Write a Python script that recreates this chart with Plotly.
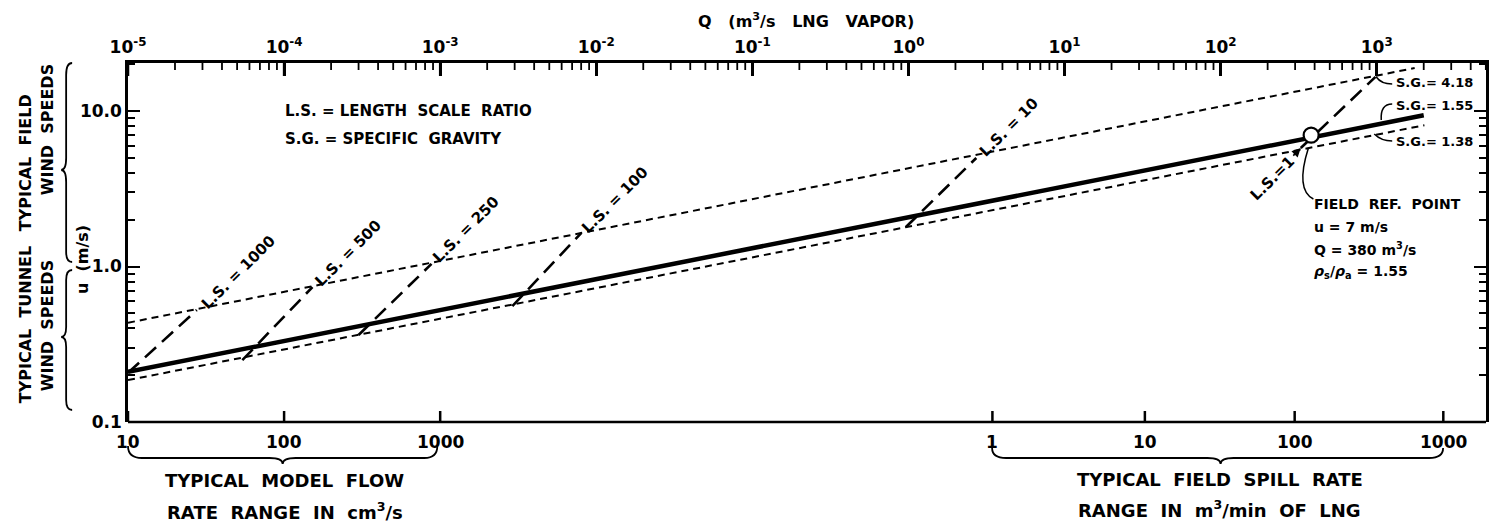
import math
import plotly.graph_objects as go

# ---- data (Q in m^3/s LNG vapour, u in m/s) ----
Q_SG155 = [1e-5, 2000]
U_SG155 = [0.21, 9.4]
Q_SG418 = [1e-5, 1750]
U_SG418 = [0.435, 18.9]
Q_SG138 = [1e-5, 2020]
U_SG138 = [0.186, 8.1]

LS_NAMES = ["1000", "500", "250", "100", "10", "1"]
LS_Q_LOW = [1.0e-5, 5.4e-5, 3.0e-4, 2.9e-3, 0.96, 326]
LS_U_LOW = [0.207, 0.25, 0.363, 0.557, 1.79, 5.78]
LS_Q_HIGH = [2.76e-5, 1.52e-4, 8.8e-4, 8.0e-3, 2.72, 982]
LS_U_HIGH = [0.525, 0.738, 1.04, 1.64, 4.99, 16.6]

REF_Q = 380
REF_U = 7

TOP_TICKS = [1e-5, 1e-4, 1e-3, 1e-2, 1e-1, 1e0, 1e1, 1e2, 1e3]
TOP_TEXT = ["10<sup>-5</sup>", "10<sup>-4</sup>", "10<sup>-3</sup>", "10<sup>-2</sup>",
            "10<sup>-1</sup>", "10<sup>0</sup>", "10<sup>1</sup>", "10<sup>2</sup>",
            "10<sup>3</sup>"]
# bottom scales: model flow (cm^3/s) and field spill rate (m^3/min LNG),
# each tick given as its equivalent Q on the vapour scale
MODEL_TICK_Q = [1e-5, 1e-4, 1e-3]
MODEL_TICK_TEXT = ["10", "100", "1000"]
FIELD_TICK_Q = [3.45, 32.7, 298, 2670]
FIELD_TICK_TEXT = ["1", "10", "100", "1000"]

Y_TICKS = [0.1, 1, 10]
Y_TEXT = ["0.1", "1.0", "10.0"]

X_RANGE = [-5, 3.70]
Y_RANGE = [-1, 1.309]

W, H = 1496, 526
ML, MR, MT, MB = 128, 7, 63, 104
PW, PH = W - ML - MR, H - MT - MB
PX_PER_DEC_Y = PH / (Y_RANGE[1] - Y_RANGE[0])
FONT = "DejaVu Sans"


def log_minor(lo_dec, hi_dec, hi_val):
    """2..9 subdivisions of each decade, for minor tick marks."""
    vals = []
    for d in range(lo_dec, hi_dec + 1):
        for k in range(2, 10):
            v = k * 10.0 ** d
            if v <= hi_val:
                vals.append(v)
    return vals


def px(x):
    return (x - ML) / PW


def py(y):
    return (H - MB - y) / PH


def pth(points):
    """SVG path in paper units from a list of (cmd, x, y, ...) pixel tuples."""
    out = []
    for item in points:
        cmd, coords = item[0], item[1:]
        pairs = []
        for i in range(0, len(coords), 2):
            pairs.append(f"{px(coords[i]):.5f},{py(coords[i + 1]):.5f}")
        out.append(cmd + " " + " ".join(pairs))
    return " ".join(out)


def tick_segments(qs, from_top, length_px):
    """Vertical tick segments on the top or bottom frame, in data units."""
    if from_top:
        y0 = 10 ** Y_RANGE[1]
        y1 = 10 ** (Y_RANGE[1] - length_px / PX_PER_DEC_Y)
    else:
        y0 = 10 ** Y_RANGE[0]
        y1 = 10 ** (Y_RANGE[0] + length_px / PX_PER_DEC_Y)
    xs, ys = [], []
    for q in qs:
        xs += [q, q, None]
        ys += [y0, y1, None]
    return xs, ys


fig = go.Figure()

# density lines
fig.add_trace(go.Scatter(x=Q_SG418, y=U_SG418, mode="lines",
                         line=dict(color="black", width=2, dash="7px,5px")))
fig.add_trace(go.Scatter(x=Q_SG138, y=U_SG138, mode="lines",
                         line=dict(color="black", width=2, dash="7px,5px")))
fig.add_trace(go.Scatter(x=Q_SG155, y=U_SG155, mode="lines",
                         line=dict(color="black", width=4.5)))

# length-scale lines
for i in range(len(LS_NAMES)):
    fig.add_trace(go.Scatter(x=[LS_Q_LOW[i], LS_Q_HIGH[i]], y=[LS_U_LOW[i], LS_U_HIGH[i]],
                             mode="lines",
                             line=dict(color="black", width=2.6, dash="15px,8px")))

# field reference point
fig.add_trace(go.Scatter(x=[REF_Q], y=[REF_U], mode="markers",
                         marker=dict(size=15, color="white",
                                     line=dict(color="black", width=2.2))))

# frame tick marks: vapour scale along the top, model/field scales along the bottom
for qs, top, length, width in [(TOP_TICKS, True, 13, 2.5),
                               (log_minor(-5, 3, 5000), True, 7, 1.8),
                               (MODEL_TICK_Q + FIELD_TICK_Q, False, 11, 2.5)]:
    tx, ty = tick_segments(qs, top, length)
    fig.add_trace(go.Scatter(x=tx, y=ty, mode="lines", hoverinfo="skip",
                             connectgaps=False, cliponaxis=False,
                             line=dict(color="black", width=width)))

ann = []
shapes = []

# length-scale labels along the lines
LS_SHIFT = [(42, 38), (36, 34), (34, 34), (34, 33), (33, 31)]
for i, (dx, dy) in enumerate(LS_SHIFT):
    ann.append(dict(x=math.log10(LS_Q_HIGH[i]), y=math.log10(LS_U_HIGH[i]),
                    xref="x", yref="y",
                    text=f"L.S. = {LS_NAMES[i]}", showarrow=False, textangle=-45,
                    xshift=dx, yshift=dy, font=dict(size=15)))
# L.S. = 1 label with its pointer
ann.append(dict(x=math.log10(LS_Q_LOW[5]), y=math.log10(LS_U_LOW[5]),
                xref="x", yref="y", text="L.S.=1", showarrow=False, textangle=-45,
                xshift=-28, yshift=-30, font=dict(size=15)))
ann.append(dict(x=math.log10(LS_Q_LOW[5]), y=math.log10(LS_U_LOW[5]),
                xref="x", yref="y", text="", showarrow=True, arrowhead=2,
                arrowsize=1.1, arrowwidth=1.6, arrowcolor="black", ax=-9, ay=9))

# bottom scale labels
for q, label in zip(MODEL_TICK_Q + FIELD_TICK_Q, MODEL_TICK_TEXT + FIELD_TICK_TEXT):
    ann.append(dict(x=math.log10(q), y=0, xref="x", yref="paper", text=label,
                    showarrow=False, xanchor="center", yanchor="top", yshift=-8,
                    font=dict(size=17)))


def txt(x, y, s, size=14, angle=0, xa="center", ya="middle"):
    ann.append(dict(x=px(x), y=py(y), xref="paper", yref="paper", text=s,
                    showarrow=False, textangle=angle, xanchor=xa, yanchor=ya,
                    font=dict(size=size)))


txt(807, 20, "Q   (m<sup>3</sup>/s   LNG   VAPOR)", 16)
txt(283, 111, "L.S. = LENGTH  SCALE  RATIO", 15, xa="left")
txt(283, 139, "S.G. = SPECIFIC  GRAVITY", 15, xa="left")
txt(1397, 82, "S.G.= 4.18", 13, xa="left")
txt(1397, 106, "S.G.= 1.55", 13, xa="left")
txt(1397, 141, "S.G.= 1.38", 13, xa="left")
txt(1315, 204, "FIELD  REF.  POINT", 14, xa="left")
txt(1315, 227, "u = 7 m/s", 14, xa="left")
txt(1315, 249, "Q = 380 m<sup>3</sup>/s", 14, xa="left")
txt(1315, 272, "<i>ρ</i><sub>s</sub>/<i>ρ</i><sub>a</sub> = 1.55", 14, xa="left")

txt(285, 480, "TYPICAL  MODEL  FLOW", 18)
txt(285, 511, "RATE  RANGE  IN  cm<sup>3</sup>/s", 18)
txt(1222, 479, "TYPICAL  FIELD  SPILL  RATE", 18)
txt(1222, 509, "RANGE  IN  m<sup>3</sup>/min  OF  LNG", 18)

txt(82, 260, "u  (m/s)", 16, angle=-90)
txt(25, 325, "TYPICAL  TUNNEL", 16, angle=-90)
txt(47, 326, "WIND  SPEEDS", 16, angle=-90)
txt(25, 163, "TYPICAL  FIELD", 16, angle=-90)
txt(47, 130, "WIND  SPEEDS", 16, angle=-90)


def path(pts, width=1.8):
    shapes.append(dict(type="path", xref="paper", yref="paper", path=pth(pts),
                       line=dict(color="black", width=width)))


# lower frame line
shapes.append(dict(type="line", xref="paper", yref="paper", x0=0, x1=1, y0=0, y1=0,
                   line=dict(color="black", width=2.5)))
# braces under the bottom scales
path([("M", 128, 446), ("Q", 128, 458, 142, 458), ("L", 270, 458),
      ("Q", 283, 458, 283, 464), ("Q", 283, 458, 296, 458), ("L", 425, 458),
      ("Q", 438, 458, 438, 446)])
path([("M", 994, 448), ("Q", 994, 458, 1008, 458), ("L", 1210, 458),
      ("Q", 1223, 458, 1223, 464), ("Q", 1223, 458, 1236, 458), ("L", 1432, 458),
      ("Q", 1446, 458, 1446, 448)])
# braces beside the speed axis
path([("M", 72, 63), ("Q", 66, 63, 66, 75), ("L", 66, 158),
      ("Q", 66, 170, 61, 170), ("Q", 66, 170, 66, 182), ("L", 66, 252),
      ("Q", 66, 262, 72, 262)])
path([("M", 72, 270), ("Q", 66, 270, 66, 280), ("L", 66, 327),
      ("Q", 66, 337, 61, 337), ("Q", 66, 337, 66, 347), ("L", 66, 400),
      ("Q", 66, 410, 72, 410)])
# leaders to the S.G. labels and the reference point note
path([("M", 1379, 77), ("Q", 1384, 84, 1395, 84)], 1.5)
path([("M", 1384, 120), ("Q", 1383, 104, 1395, 104)], 1.5)
path([("M", 1377, 134), ("Q", 1384, 141, 1395, 141)], 1.5)
path([("M", 1311, 148), ("C", 1304, 170, 1302, 192, 1316, 199)], 1.5)

fig.update_layout(
    width=W, height=H, autosize=False,
    margin=dict(l=ML, r=MR, t=MT, b=MB),
    paper_bgcolor="white", plot_bgcolor="white",
    showlegend=False,
    font=dict(family=FONT, size=15, color="black", weight="bold"),
    annotations=ann, shapes=shapes,
    xaxis=dict(type="log", range=X_RANGE, side="top", showline=True,
               linecolor="black", linewidth=2.5, ticks="inside", ticklen=13,
               tickwidth=2.5, tickcolor="black",
               tickvals=TOP_TICKS, ticktext=TOP_TEXT,
               tickfont=dict(size=17), showgrid=False, zeroline=False),
    yaxis=dict(type="log", range=Y_RANGE, showline=True, linecolor="black",
               linewidth=2.5, mirror="ticks", ticks="inside", ticklen=12,
               tickwidth=2, tickcolor="black", tickvals=Y_TICKS, ticktext=Y_TEXT,
               tickfont=dict(size=17), showgrid=False, zeroline=False,
               minor=dict(ticks="inside", ticklen=7, tickwidth=1.5,
                          tickcolor="black", showgrid=False,
                          tickmode="array", tickvals=log_minor(-1, 1, 20))),
)

fig.write_html("out.html")
